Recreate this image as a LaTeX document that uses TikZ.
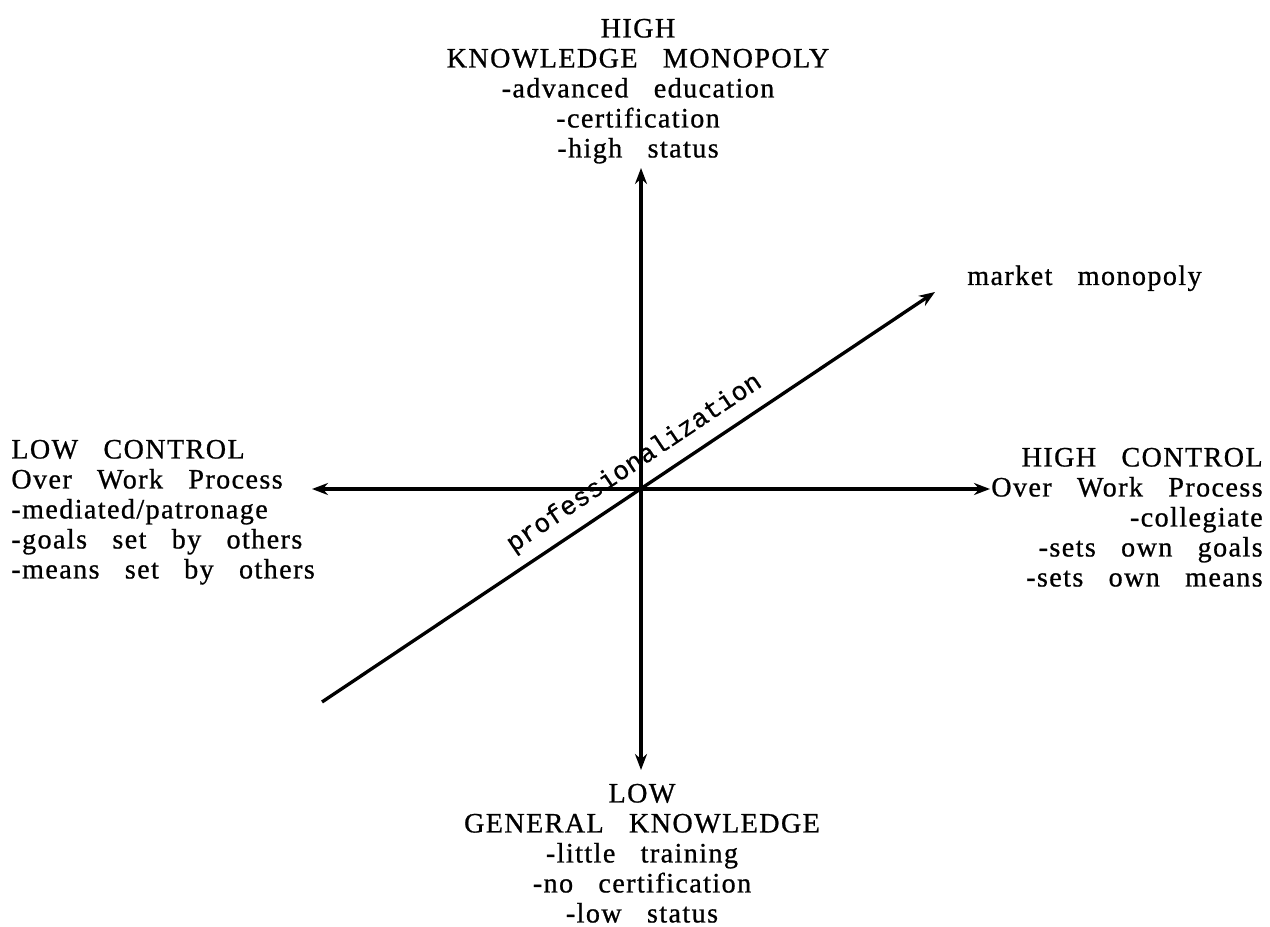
\documentclass[tikz,border=0pt]{standalone}
\usepackage{fontspec}
\setmainfont{Liberation Serif}[LetterSpace=5,WordSpace=3,FakeBold=0.8]
\newfontfamily\typefont{Liberation Mono}[FakeBold=0.6]
\usepackage{tikz}
\usetikzlibrary{arrows.meta, positioning, calc}

\tikzset{
  axisline/.style={line width=1.9pt, {Stealth[length=0.32cm,width=0.24cm]}-{Stealth[length=0.32cm,width=0.24cm]}},
  trendline/.style={line width=1.9pt, -{Stealth[length=0.32cm,width=0.24cm]}},
  poletext/.style={inner sep=0pt, font=\fontsize{16}{17.07}\selectfont},
}

\begin{document}
\begin{tikzpicture}
\useasboundingbox (0,0) rectangle (25.4,-18.54);

\coordinate (centre) at (12.82,-9.78);
\coordinate (ktop) at (12.82,-3.36);
\coordinate (kbottom) at (12.82,-15.40);
\coordinate (cleft) at (6.24,-9.78);
\coordinate (cright) at (19.80,-9.78);
\coordinate (pstart) at (6.44,-14.04);
\coordinate (ptip) at (18.70,-5.84);

\node[poletext, align=center, anchor=north] (highk) at (12.76,-0.37) {HIGH\\KNOWLEDGE MONOPOLY\\-advanced education\\-certification\\-high status};
\node[poletext, align=center, anchor=north] (lowk) at (12.84,-15.67) {LOW\\GENERAL KNOWLEDGE\\-little training\\-no certification\\-low status};
\node[poletext, align=left, anchor=north west] (lowc) at (0.22,-8.79) {LOW CONTROL\\Over Work Process\\-mediated/patronage\\-goals set by others\\-means set by others};
\node[poletext, align=right, anchor=north east] (highc) at (25.26,-8.95) {HIGH CONTROL\\Over Work Process\\-collegiate\\-sets own goals\\-sets own means};
\node[poletext, anchor=base west] (market) at (19.34,-5.70) {market monopoly};

\draw[axisline] (kbottom) -- (ktop);
\draw[axisline] (cleft) -- (cright);
\draw[trendline] (pstart) -- (ptip)
  node[pos=0.532, sloped, above=6pt, inner sep=0pt, font=\typefont\fontsize{15}{17}\selectfont] (proflabel) {professionalization};
\end{tikzpicture}
\end{document}
